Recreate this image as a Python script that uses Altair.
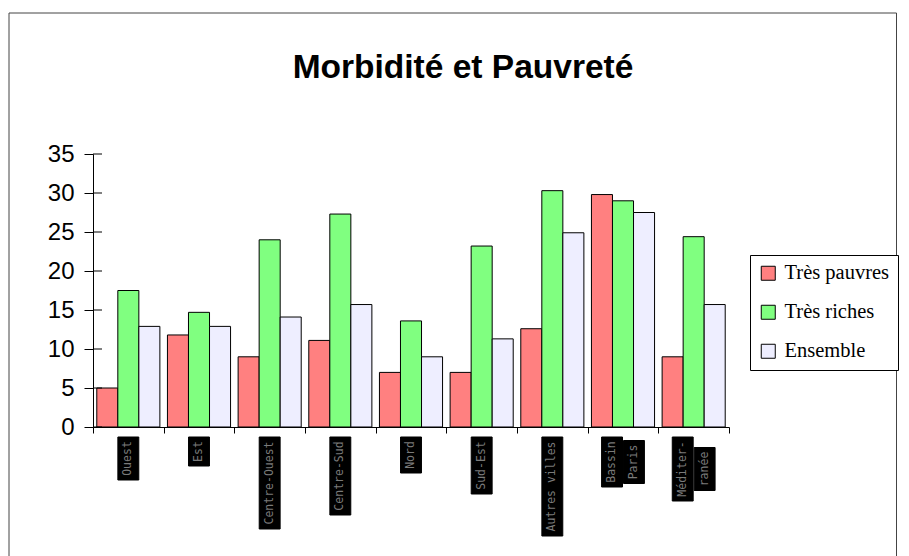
import altair as alt
import pandas as pd

# ---- data ----
categories = ["Ouest", "Est", "Centre-Ouest", "Centre-Sud", "Nord", "Sud-Est",
              "Autres villes", "Bassin|Paris", "Méditer-|ranée"]
series = ["Très pauvres", "Très riches", "Ensemble"]
tres_pauvres = [5.0, 11.8, 9.0, 11.1, 7.0, 7.0, 12.6, 29.8, 9.0]
tres_riches = [17.5, 14.7, 24.0, 27.3, 13.6, 23.2, 30.3, 29.0, 24.4]
ensemble = [12.9, 12.9, 14.1, 15.7, 9.0, 11.3, 24.9, 27.5, 15.7]
y_ticks = [0, 5, 10, 15, 20, 25, 30, 35]
colors = ["#FF8080", "#80FF80", "#EEEEFF"]
title_text = "Morbidité et Pauvreté"

# ---- layout constants ----
W, H = 636, 273
PAD = {"left": 85, "top": 146, "right": 172, "bottom": 129}

rows = []
for s, vals in zip(series, [tres_pauvres, tres_riches, ensemble]):
    for c, v in zip(categories, vals):
        rows.append({"cat": c, "serie": s, "val": v})
bars_df = pd.DataFrame(rows)

# label boxes (black boxes with vertical text under each group)
lab_rows = []
for i, c in enumerate(categories):
    lines = c.split("|")
    n = len(lines)
    maxh = max(len(l) for l in lines) * 7 + 8
    mid = H + 10 + maxh / 2
    for j, l in enumerate(lines):
        h = len(l) * 7 + 8
        lx = i + 0.5 + (j - (n - 1) / 2) * 0.31
        lab_rows.append({"txt": l, "lx": lx, "x1": lx - 0.148, "x2": lx + 0.148,
                         "ym": mid, "y1": mid - h / 2, "y2": mid + h / 2})
lab_df = pd.DataFrame(lab_rows)

one = pd.DataFrame({"a": [0]})

frame = alt.Chart(one).mark_rect(fill=None, stroke="#444444", strokeWidth=1).encode(
    x=alt.value(-84), x2=alt.value(803.5), y=alt.value(-141), y2=alt.value(420)
)

title = alt.Chart(one).mark_text(
    text=title_text, font="Liberation Sans", fontWeight="bold", fontSize=33.5,
    align="center", baseline="middle", color="black"
).encode(x=alt.value(370), y=alt.value(-86))

bars = alt.Chart(bars_df).mark_bar(stroke="black", strokeWidth=1).encode(
    x=alt.X("cat:N", sort=categories,
            scale=alt.Scale(paddingInner=0, paddingOuter=0),
            axis=alt.Axis(title=None, labels=False, tickBand="extent", tickSize=6,
                          domainColor="black", tickColor="black", grid=False)),
    xOffset=alt.XOffset("serie:N", sort=series,
                        scale=alt.Scale(paddingInner=0, paddingOuter=0.18)),
    y=alt.Y("val:Q", scale=alt.Scale(domain=[0, 35], nice=False),
            axis=alt.Axis(values=y_ticks, title=None, tickSize=9, labelPadding=10,
                          labelFont="Liberation Sans", labelFontSize=24,
                          labelColor="black", domainColor="black",
                          tickColor="black", grid=False)),
    color=alt.Color("serie:N", sort=series,
                    scale=alt.Scale(domain=series, range=colors),
                    legend=alt.Legend(orient="none", legendX=657, legendY=101,
                                      title=None, strokeColor="black",
                                      fillColor="white", padding=8,
                                      symbolType="square", symbolSize=196,
                                      symbolStrokeColor="black",
                                      symbolStrokeWidth=1, symbolOpacity=1,
                                      labelFont="Liberation Serif",
                                      labelFontSize=20.5, labelColor="black",
                                      rowPadding=18, labelOffset=6)),
)

tick_df = pd.DataFrame({"v": y_ticks})
inner_ticks = alt.Chart(tick_df).mark_rule(color="black", strokeWidth=1).encode(
    x=alt.value(0), x2=alt.value(9),
    y=alt.Y("v:Q", scale=alt.Scale(domain=[0, 35], nice=False), axis=None),
)

lab_boxes = alt.Chart(lab_df).mark_rect(fill="black", stroke="black").encode(
    x=alt.X("x1:Q", scale=alt.Scale(domain=[0, 9], nice=False, zero=False), axis=None),
    x2="x2:Q",
    y=alt.Y("y1:Q", scale=None, axis=None),
    y2="y2:Q",
)

lab_text = alt.Chart(lab_df).mark_text(
    angle=270, align="center", baseline="middle", font="DejaVu Sans Mono",
    fontSize=11.5, color="#7a7a7a"
).encode(
    x=alt.X("lx:Q", scale=alt.Scale(domain=[0, 9], nice=False, zero=False), axis=None),
    y=alt.Y("ym:Q", scale=None, axis=None),
    text="txt:N",
)

chart = alt.layer(frame, title, bars, inner_ticks, lab_boxes, lab_text).resolve_scale(
    x="independent", y="independent"
).properties(
    width=W, height=H, padding=PAD, autosize=alt.AutoSizeParams(type="none"),
    background="white",
).configure_view(stroke=None)

chart.save("out.html", embed_options={"renderer": "svg", "actions": False})
